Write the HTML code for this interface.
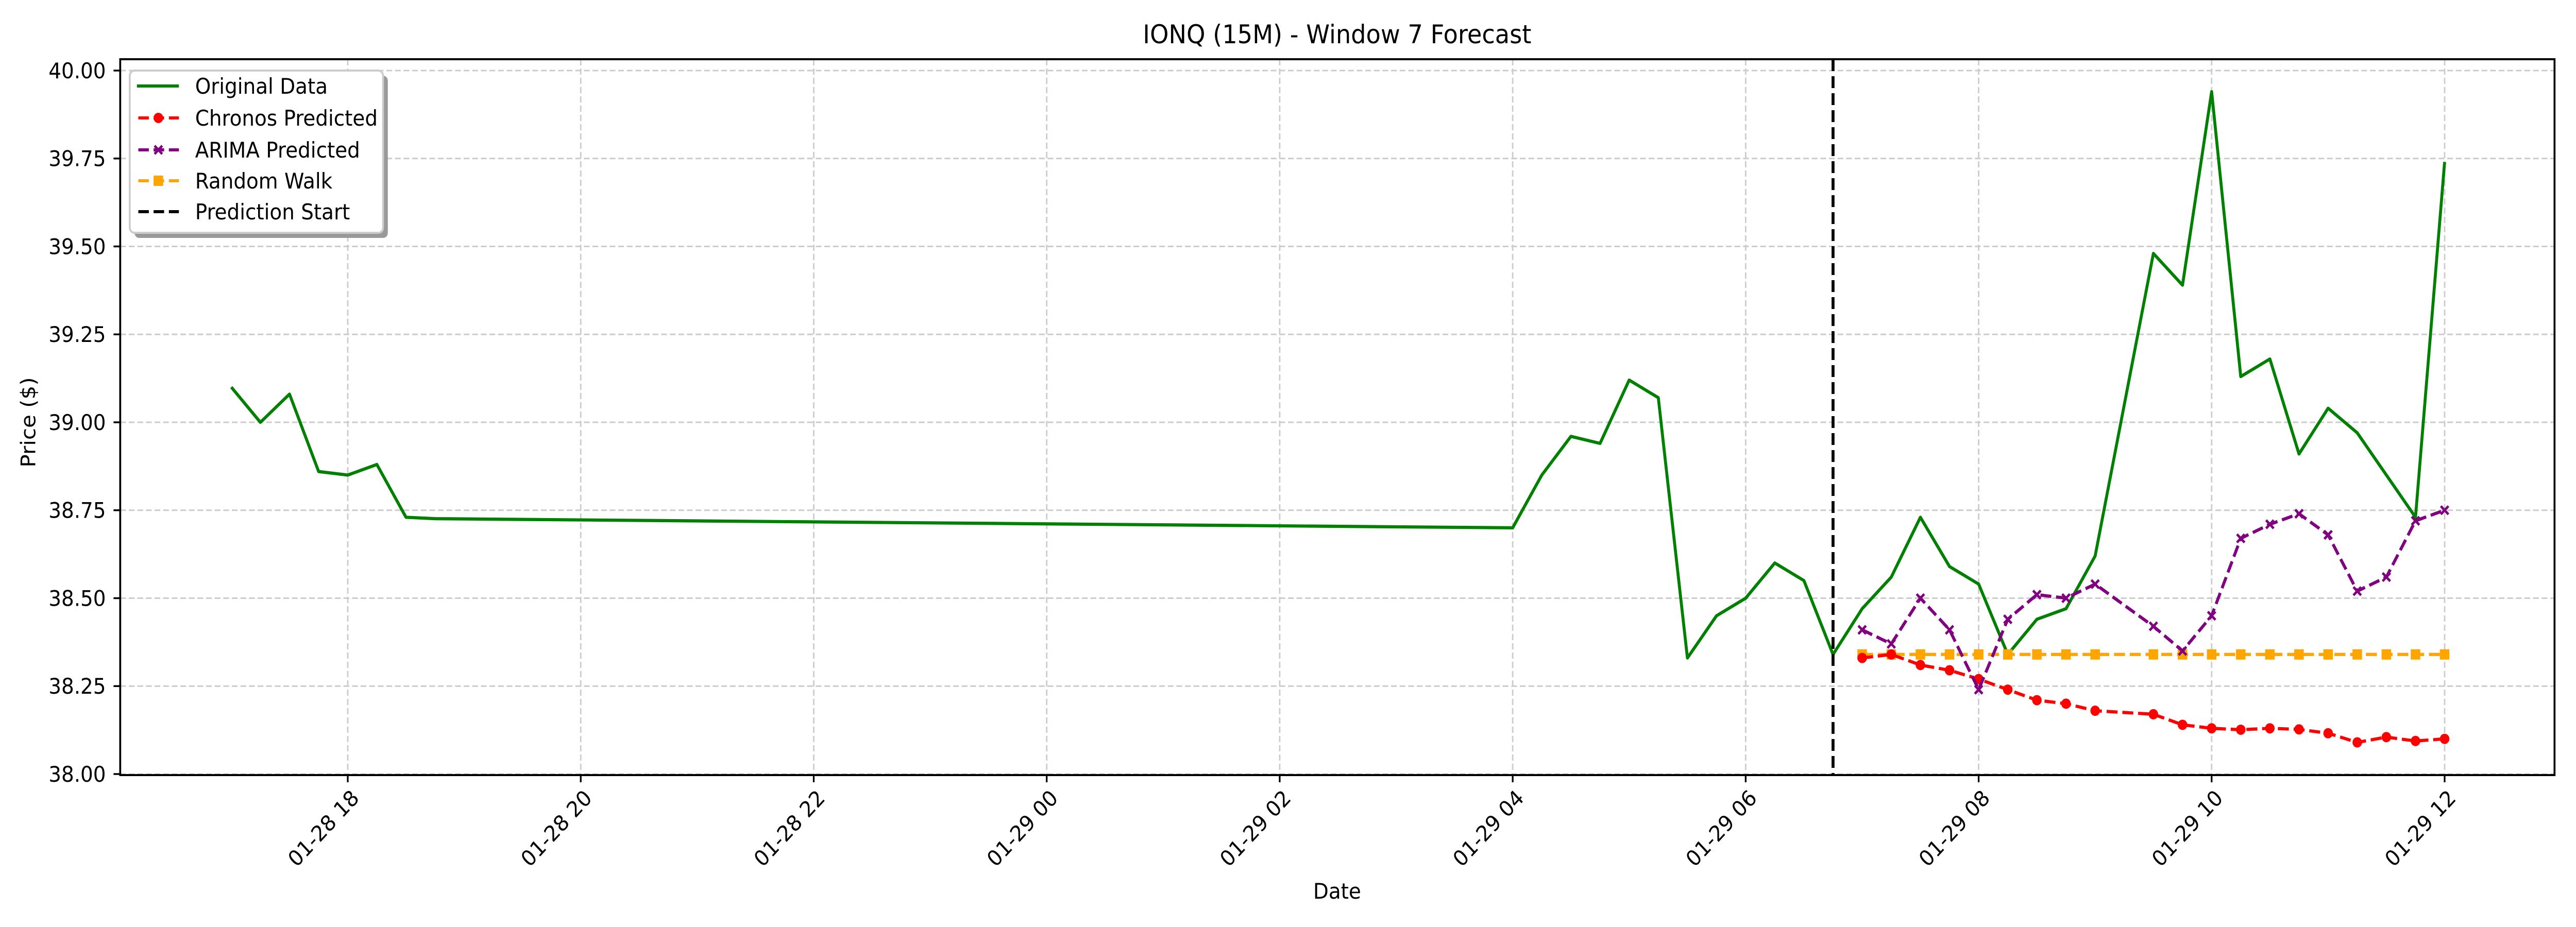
<!DOCTYPE html>
<html><head><meta charset="utf-8">
<style>
html,body{margin:0;padding:0;background:#fff;overflow:hidden;width:100%;height:100%;}
svg{display:block;font-family:"DejaVu Sans","Liberation Sans",sans-serif;width:100vw;height:100vh;}
</style></head>
<body>
<svg id="chart" viewBox="0 0 5400 1800" preserveAspectRatio="none" xmlns="http://www.w3.org/2000/svg">
<rect width="5400" height="1800" fill="#fff"/>
<g id="grid"></g>
<g id="series"></g>
<rect x="252" y="115" width="5103" height="1390" fill="none" stroke="#000" stroke-width="4"/>
<g id="axes"></g>
<text x="2803" y="84" font-size="50" text-anchor="middle">IONQ (15M) - Window 7 Forecast</text>
<text x="2803" y="1745" font-size="42" text-anchor="middle">Date</text>
<text transform="translate(74,820) rotate(-90)" font-size="42" text-anchor="middle">Price ($)</text>
<g>
  <rect x="282" y="147" width="531" height="315" rx="10" fill="#999"/>
  <rect x="272" y="137" width="531" height="315" rx="10" fill="#fff" stroke="#ccc" stroke-width="4"/>
  <g>
    <line x1="287" y1="167" x2="375" y2="167" stroke="#008000" stroke-width="6"/>
    <text x="409" y="182" font-size="42">Original Data</text>
  </g>
  <g>
    <line x1="290" y1="229" x2="375" y2="229" stroke="#ff0000" stroke-width="6" stroke-dasharray="22 10"/>
    <circle cx="332" cy="229" r="10" fill="#ff0000"/>
    <text x="409" y="244" font-size="42">Chronos Predicted</text>
  </g>
  <g>
    <line x1="290" y1="291" x2="375" y2="291" stroke="#800080" stroke-width="6" stroke-dasharray="22 10"/>
    <path d="M324 283 L340 299 M340 283 L324 299" stroke="#800080" stroke-width="5"/>
    <text x="409" y="306" font-size="42">ARIMA Predicted</text>
  </g>
  <g>
    <line x1="290" y1="351" x2="375" y2="351" stroke="#ffa500" stroke-width="6" stroke-dasharray="22 10"/>
    <rect x="322" y="341" width="20" height="20" fill="#ffa500"/>
    <text x="409" y="366" font-size="42">Random Walk</text>
  </g>
  <g>
    <line x1="290" y1="411" x2="375" y2="411" stroke="#000" stroke-width="6" stroke-dasharray="22 10"/>
    <text x="409" y="426" font-size="42">Prediction Start</text>
  </g>
</g>
</svg>
<script>
// hours are measured from 01-28 18:00
const yTicks = [38.00, 38.25, 38.50, 38.75, 39.00, 39.25, 39.50, 39.75, 40.00];
const xTickHours = [0, 2, 4, 6, 8, 10, 12, 14, 16, 18];
const xTickLabels = ["01-28 18","01-28 20","01-28 22","01-29 00","01-29 02","01-29 04","01-29 06","01-29 08","01-29 10","01-29 12"];
const origHours = [-1,-0.75,-0.5,-0.25,0,0.25,0.5,0.75,10,10.25,10.5,10.75,11,11.25,11.5,11.75,12,12.25,12.5,12.75,13,13.25,13.5,13.75,14,14.25,14.5,14.75,15,15.25,15.5,15.75,16,16.25,16.5,16.75,17,17.25,17.5,17.75,18];
const origValues = [39.10,39.00,39.08,38.86,38.85,38.88,38.73,38.726,38.70,38.85,38.96,38.94,39.12,39.07,38.33,38.45,38.50,38.60,38.55,38.34,38.47,38.56,38.73,38.59,38.54,38.34,38.44,38.47,38.62,39.05,39.48,39.39,39.94,39.13,39.18,38.91,39.04,38.97,38.85,38.73,39.74];
const predHours = [13,13.25,13.5,13.75,14,14.25,14.5,14.75,15,15.5,15.75,16,16.25,16.5,16.75,17,17.25,17.5,17.75,18];
const chronosValues = [38.33,38.34,38.31,38.295,38.27,38.24,38.21,38.20,38.18,38.17,38.14,38.13,38.126,38.13,38.127,38.116,38.09,38.105,38.094,38.10];
const arimaValues = [38.41,38.37,38.50,38.41,38.24,38.44,38.51,38.50,38.54,38.42,38.35,38.45,38.67,38.71,38.74,38.68,38.52,38.56,38.72,38.75];
const randomWalkValues = [38.34,38.34,38.34,38.34,38.34,38.34,38.34,38.34,38.34,38.34,38.34,38.34,38.34,38.34,38.34,38.34,38.34,38.34,38.34,38.34];
const predictionStartHour = 12.75;

const NS = "http://www.w3.org/2000/svg";
function xScale(h){ return 729 + h * 244.2; }
function yScale(v){ return 1503 - (v - 38.0) * 683; }
function mk(tag, attrs, parent){
  const e = document.createElementNS(NS, tag);
  for (const k in attrs) e.setAttribute(k, attrs[k]);
  parent.appendChild(e);
  return e;
}
const grid = document.getElementById('grid');
const axes = document.getElementById('axes');
const series = document.getElementById('series');

yTicks.forEach(v => {
  const y = yScale(v);
  const g = mk('line', {x1:252, x2:5355, y1:y, y2:y, stroke:'#cccccc', 'stroke-width':3, 'stroke-dasharray':'12 6'}, grid);
  
  
  const t = mk('line', {x1:238, x2:252, y1:y, y2:y, stroke:'#000', 'stroke-width':3.5}, axes);
  
  
  const lb = mk('text', {x:222, y:y + 15, 'font-size':42, 'text-anchor':'end'}, axes);
  lb.textContent = v.toFixed(2);
  
  
});
xTickHours.forEach((h, i) => {
  const x = xScale(h);
  const g = mk('line', {x1:x, x2:x, y1:115, y2:1505, stroke:'#cccccc', 'stroke-width':3, 'stroke-dasharray':'12 6'}, grid);
  
  
  const t = mk('line', {x1:x, x2:x, y1:1505, y2:1519, stroke:'#000', 'stroke-width':3.5}, axes);
  
  
  const lb = mk('text', {transform:'translate(' + (x + 26) + ',1552) rotate(-45)', 'font-size':42, 'text-anchor':'end'}, axes);
  lb.textContent = xTickLabels[i];
  
  
});

function pts(hours, vals){ return hours.map((h, i) => xScale(h) + ',' + yScale(vals[i])).join(' '); }

const orig = mk('polyline', {points:pts(origHours, origValues), fill:'none', stroke:'#008000', 'stroke-width':6.2, 'stroke-linejoin':'round'}, series);



const ps = mk('line', {x1:xScale(predictionStartHour), x2:xScale(predictionStartHour), y1:115, y2:1505, stroke:'#000', 'stroke-width':6.2, 'stroke-dasharray':'23 10'}, series);



const rw = mk('polyline', {points:pts(predHours, randomWalkValues), fill:'none', stroke:'#ffa500', 'stroke-width':6.2, 'stroke-dasharray':'23 10'}, series);


predHours.forEach((h, i) => {
  const m = mk('rect', {x:xScale(h) - 10, y:yScale(randomWalkValues[i]) - 10, width:20, height:20, fill:'#ffa500'}, series);
  
  
});

const ch = mk('polyline', {points:pts(predHours, chronosValues), fill:'none', stroke:'#ff0000', 'stroke-width':6.2, 'stroke-dasharray':'23 10'}, series);


predHours.forEach((h, i) => {
  const m = mk('circle', {cx:xScale(h), cy:yScale(chronosValues[i]), r:10, fill:'#ff0000'}, series);
  
  
});

const ar = mk('polyline', {points:pts(predHours, arimaValues), fill:'none', stroke:'#800080', 'stroke-width':6.2, 'stroke-dasharray':'23 10'}, series);


predHours.forEach((h, i) => {
  const x = xScale(h), y = yScale(arimaValues[i]);
  const m = mk('path', {d:'M' + (x-8) + ' ' + (y-8) + ' L' + (x+8) + ' ' + (y+8) + ' M' + (x+8) + ' ' + (y-8) + ' L' + (x-8) + ' ' + (y+8), stroke:'#800080', 'stroke-width':5}, series);
  
  
});
</script>
</body></html>
